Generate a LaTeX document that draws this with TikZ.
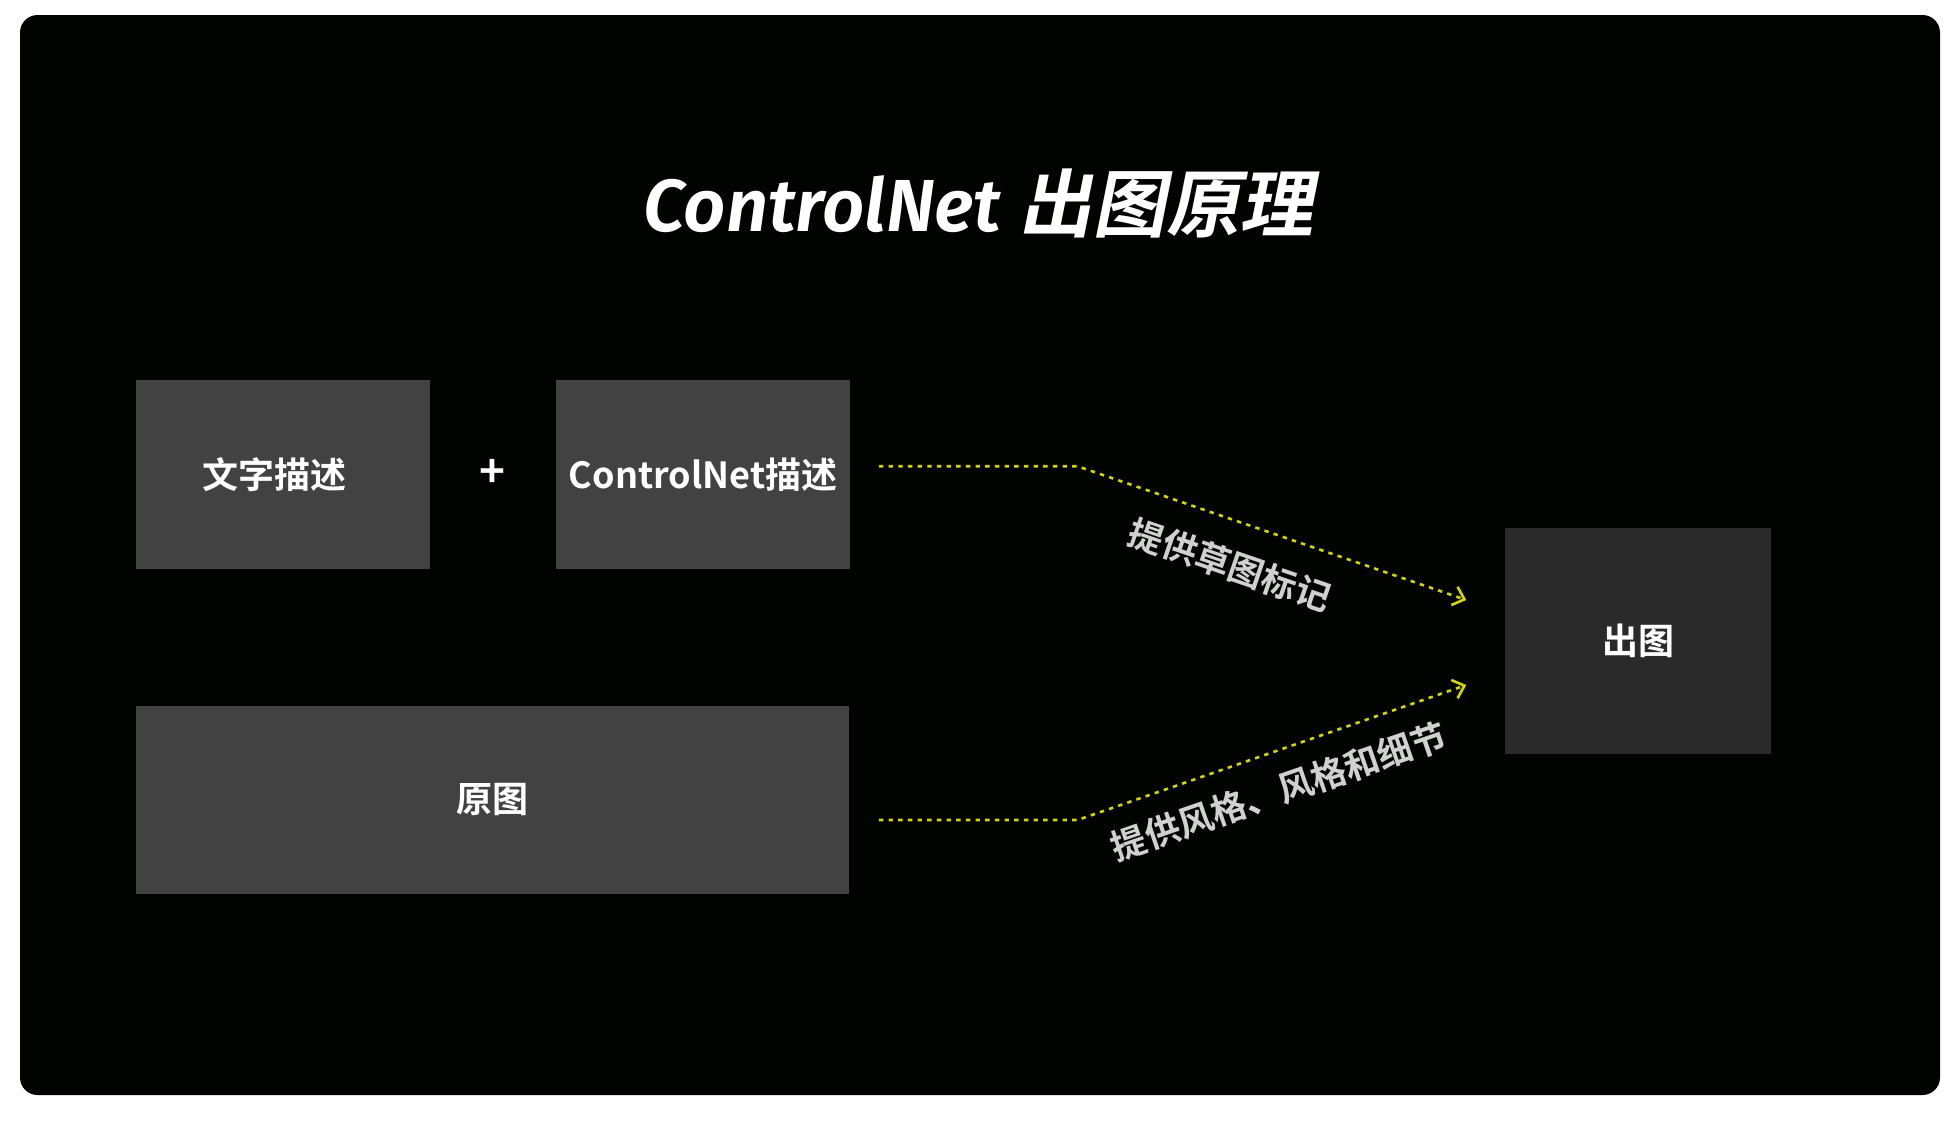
\documentclass[tikz,border=0pt]{standalone}
\usepackage{fontspec}
\setmainfont{Noto Sans CJK SC}[BoldFont={* Bold}]
\newfontfamily\cjkslant{Noto Sans CJK SC Bold}[FakeSlant=0.2]
\newfontfamily\latslant{Fira Sans}[UprightFont={* SemiBold Italic}]
\usetikzlibrary{arrows.meta, positioning}
\definecolor{bgdark}{HTML}{000300}
\definecolor{boxgray}{HTML}{424242}
\definecolor{outgray}{HTML}{2A2A2A}
\definecolor{linkyellow}{HTML}{D4D400}
\definecolor{labelgray}{HTML}{D0D0D0}
\tikzset{
  block/.style={draw=none, fill=boxgray, text=white, font=\fontsize{41}{44}\selectfont\bfseries},
  link/.style={linkyellow, line width=3pt, dash pattern=on 5pt off 6pt, -{Straight Barb[length=12pt, width=22pt, line width=3pt]}},
  tag/.style={text=labelgray, font=\fontsize{40}{44}\selectfont\bfseries}
}
\begin{document}
\begin{tikzpicture}[x=0.05cm, y=-0.05cm]
\useasboundingbox (0,0) rectangle (1568,896);
\fill[white] (0,0) rectangle (1568,896);
\fill[bgdark, rounded corners=0.7cm] (16,12) rectangle (1552,876);
% title
\node (title) [text=white] at (783,163) {\latslant\fontsize{84}{90}\selectfont ControlNet\ \cjkslant 出图原理};
% blocks
\node (text) [block, minimum width=11.75cm, minimum height=7.55cm] at (226.5,379.5) {\hspace*{-20pt}文字描述};
\node (plus) [text=white, font=\fontsize{50}{50}\selectfont\bfseries] at (394,379) {+};
\node (ctl) [block, minimum width=11.75cm, minimum height=7.55cm] at (562.5,379.5) {ControlNet描述};
\node (src) [block, minimum width=28.5cm, minimum height=7.5cm] at (394,640) {原图};
\node (out) [block, fill=outgray, minimum width=10.65cm, minimum height=9.05cm] at (1310.5,512.5) {出图};
% links
\coordinate (bend1) at (862,373);
\coordinate (bend2) at (862,656);
\coordinate (in1) at (1173,480);
\coordinate (in2) at (1173,548);
\draw[link] ([shift={(23,-6.5)}]ctl.east) -- (bend1) -- (in1);
\draw[link] ([shift={(24,16)}]src.east) -- (bend2) -- (in2);
\node (tag1) [tag, rotate=-19] at (984,452) {提供草图标记};
\node (tag2) [tag, rotate=19] at (1023,633) {提供风格、风格和细节};
\end{tikzpicture}
\end{document}
